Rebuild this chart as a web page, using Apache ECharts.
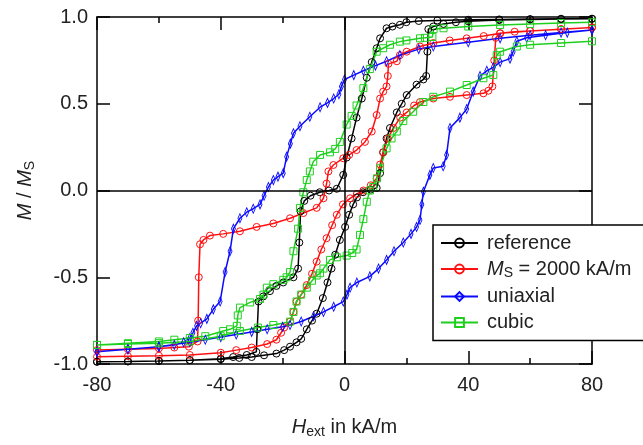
<!DOCTYPE html>
<html>
<head>
<meta charset="utf-8">
<script src="https://cdn.jsdelivr.net/npm/echarts@6/dist/echarts.min.js"></script>
<style>
  html, body { margin: 0; padding: 0; background: #fff; }
  #chart-container { width: 643px; height: 445px; }
</style>
</head>
<body>
<div id="chart-container"></div>
<script>
// H in kA/m, M / Ms ; each loop = descending branch + ascending branch
var refDown = [[80, 0.99], [70, 0.99], [60, 0.988], [50, 0.986], [40, 0.984], [30, 0.98], [24, 0.977], [20, 0.97], [17.9, 0.955], [15.5, 0.945], [13.6, 0.935], [11.5, 0.877], [10.4, 0.82], [8.8, 0.74], [7.2, 0.65], [5.6, 0.53], [3.9, 0.42], [2.3, 0.30], [0.7, 0.19], [-0.4, 0.09], [-2.5, 0.01], [-5, 0.0], [-8, -0.01], [-11, -0.03], [-13, -0.06], [-14.2, -0.12], [-14.6, -0.3], [-15, -0.45], [-16.5, -0.5], [-19.8, -0.53], [-22, -0.55], [-24.1, -0.58], [-26.2, -0.61], [-27.8, -0.64], [-28.2, -0.8], [-28.5, -0.93], [-31.6, -0.948], [-36, -0.96], [-40, -0.97], [-50, -0.978], [-60, -0.982], [-70, -0.985], [-80, -0.987]];
var refUp = [[-80, -0.987], [-70, -0.985], [-60, -0.982], [-50, -0.978], [-40, -0.972], [-34, -0.965], [-30, -0.96], [-26, -0.95], [-22, -0.94], [-19.5, -0.92], [-17.6, -0.9], [-15.5, -0.875], [-14, -0.855], [-12.2, -0.8], [-10.5, -0.75], [-9, -0.71], [-7, -0.62], [-5.5, -0.53], [-4.2, -0.45], [-3, -0.37], [-1.5, -0.285], [0.2, -0.21], [1.5, -0.14], [2.8, -0.08], [4, -0.04], [6, -0.01], [8.5, 0.005], [10.4, 0.015], [11.5, 0.1], [12.5, 0.22], [13.6, 0.3], [14.7, 0.36], [16.9, 0.45], [18.5, 0.5], [20.1, 0.55], [23.3, 0.61], [25.5, 0.64], [26.4, 0.66], [26.8, 0.8], [27.1, 0.93], [28.7, 0.945], [32, 0.96], [36, 0.97], [40, 0.975], [50, 0.982], [60, 0.986], [70, 0.988], [80, 0.99]];

var msDown = [[80, 0.94], [70, 0.93], [60, 0.92], [50.3, 0.906], [45, 0.89], [39.5, 0.877], [34, 0.865], [28.7, 0.85], [24.4, 0.83], [20.1, 0.80], [17.9, 0.78], [16.9, 0.745], [14.2, 0.73], [14, 0.66], [13.6, 0.6], [12.5, 0.57], [11.5, 0.53], [10.4, 0.435], [8.8, 0.34], [6.6, 0.28], [3.9, 0.233], [1.5, 0.205], [-0.4, 0.186], [-3.6, 0.147], [-5.2, 0.11], [-5.8, 0.04], [-6.8, -0.045], [-9, -0.10], [-13.3, -0.13], [-17.6, -0.16], [-23, -0.19], [-28.4, -0.21], [-33.8, -0.235], [-39.2, -0.25], [-43.5, -0.26], [-45.6, -0.285], [-46.7, -0.31], [-47.1, -0.5], [-47.3, -0.75], [-47.5, -0.87], [-50.3, -0.9], [-55, -0.905], [-60, -0.91], [-70, -0.915], [-80, -0.92]];
var msUp = [[-80, -0.958], [-70, -0.955], [-60, -0.952], [-50, -0.948], [-40, -0.935], [-35, -0.92], [-30, -0.905], [-25, -0.885], [-22, -0.86], [-20.5, -0.82], [-19.5, -0.79], [-17.6, -0.756], [-16.5, -0.7], [-15.5, -0.64], [-14, -0.6], [-12.2, -0.545], [-10.5, -0.48], [-9, -0.41], [-7.5, -0.34], [-5.8, -0.275], [-4, -0.2], [-2.5, -0.14], [-0.5, -0.08], [1.8, -0.045], [4, -0.02], [6.1, 0.0], [8.5, 0.03], [10.4, 0.07], [11.5, 0.15], [12.5, 0.22], [14, 0.3], [15.8, 0.36], [18, 0.42], [20.1, 0.45], [22.5, 0.49], [24.4, 0.51], [28.7, 0.53], [34.1, 0.54], [39.5, 0.55], [44.9, 0.56], [46.5, 0.575], [47.8, 0.6], [48.4, 0.75], [48.9, 0.88], [50.3, 0.906], [55, 0.915], [60, 0.92], [70, 0.93], [80, 0.94]];

var uniDown = [[80, 0.925], [70, 0.91], [60, 0.895], [50.3, 0.877], [40, 0.855], [28.7, 0.83], [24, 0.815], [17.9, 0.78], [13.6, 0.745], [10, 0.72], [6.1, 0.69], [3, 0.665], [0, 0.64], [-1, 0.6], [-1.8, 0.555], [-3.5, 0.53], [-5.5, 0.505], [-7.9, 0.48], [-11.2, 0.425], [-14.4, 0.37], [-16.5, 0.33], [-17.5, 0.27], [-18.7, 0.195], [-19.8, 0.10], [-21.5, 0.08], [-23, 0.06], [-24.6, 0.02], [-26, -0.03], [-27.3, -0.08], [-29.5, -0.105], [-31.6, -0.125], [-33.8, -0.16], [-35.9, -0.22], [-37, -0.35], [-38.6, -0.47], [-40.2, -0.64], [-42.4, -0.685], [-44.5, -0.74], [-46.5, -0.765], [-47.8, -0.78], [-49, -0.82], [-50, -0.85], [-52, -0.875], [-55, -0.89], [-60, -0.9], [-70, -0.915], [-80, -0.93]];
var uniUp = [[-80, -0.93], [-70, -0.915], [-60, -0.9], [-50, -0.875], [-45, -0.86], [-40, -0.845], [-35, -0.83], [-30, -0.815], [-25, -0.8], [-20, -0.785], [-17.6, -0.775], [-14, -0.755], [-10, -0.725], [-6.8, -0.70], [-3.5, -0.67], [-0.4, -0.64], [0.8, -0.6], [1.8, -0.56], [4, -0.53], [8.2, -0.495], [11, -0.45], [13.6, -0.40], [16, -0.35], [19, -0.30], [21.5, -0.25], [23.3, -0.21], [24.4, -0.17], [25, -0.08], [25.5, -0.007], [27.6, 0.09], [28.7, 0.13], [31.9, 0.14], [33, 0.205], [34.1, 0.36], [37.3, 0.42], [39.5, 0.47], [41.6, 0.57], [43.8, 0.66], [46, 0.69], [48.1, 0.71], [50.3, 0.74], [53.5, 0.76], [54.5, 0.80], [55.7, 0.86], [58.9, 0.88], [65, 0.895], [72, 0.91], [80, 0.925]];

var cubDown = [[80, 0.97], [70, 0.965], [60, 0.96], [50.3, 0.954], [40, 0.945], [32, 0.935], [28.8, 0.93], [28.4, 0.885], [26, 0.88], [24.4, 0.877], [20, 0.865], [17.9, 0.858], [14.7, 0.84], [12.5, 0.82], [10.4, 0.80], [8.2, 0.70], [6.1, 0.59], [3.9, 0.49], [2.3, 0.43], [0.7, 0.38], [-1.5, 0.28], [-3, 0.24], [-4.7, 0.22], [-7.9, 0.205], [-10.1, 0.166], [-11.2, 0.11], [-12.2, 0.06], [-13.3, -0.01], [-14.4, -0.1], [-15, -0.22], [-16.5, -0.35], [-17.6, -0.47], [-18.7, -0.50], [-19.8, -0.515], [-23, -0.54], [-25.1, -0.56], [-26.2, -0.6], [-27.3, -0.625], [-30.5, -0.645], [-33.8, -0.675], [-34.5, -0.72], [-34.8, -0.78], [-37, -0.8], [-39.2, -0.81], [-45, -0.84], [-50, -0.85], [-55, -0.86], [-60, -0.87], [-70, -0.88], [-80, -0.89]];
var cubUp = [[-80, -0.89], [-70, -0.885], [-60, -0.88], [-50, -0.87], [-40, -0.84], [-33.8, -0.81], [-28, -0.79], [-23, -0.775], [-17.6, -0.756], [-16.5, -0.7], [-15.5, -0.64], [-14, -0.6], [-12.2, -0.56], [-10.5, -0.52], [-9, -0.49], [-7.9, -0.477], [-6.8, -0.45], [-4.7, -0.40], [-2.5, -0.385], [0.7, -0.375], [2.5, -0.36], [3.9, -0.34], [5, -0.256], [6.1, -0.165], [7.2, -0.065], [8.2, 0.0], [9.3, 0.02], [10.5, 0.07], [11.5, 0.128], [13.6, 0.243], [15.2, 0.3], [16.9, 0.34], [19, 0.40], [22.2, 0.454], [25.5, 0.51], [28.7, 0.54], [34.1, 0.57], [39.5, 0.608], [44.9, 0.647], [48.1, 0.666], [49.2, 0.78], [50.3, 0.80], [55.7, 0.83], [60, 0.84], [70, 0.85], [80, 0.86]];

var seriesNames = ['reference', 'ms', 'uniaxial', 'cubic'];
var seriesColors = ['#000000', '#ff1010', '#0a0aff', '#1ed01e'];
var seriesSymbols = ['circle', 'circle', 'diamond', 'rect'];
var symbolSizes = [7, 7, [4, 9], 7];
var loops = [refDown.concat(refUp), msDown.concat(msUp), uniDown.concat(uniUp), cubDown.concat(cubUp)];

var FONT = '"Liberation Sans", Arial, sans-serif';

var dom = document.getElementById('chart-container');
var myChart = echarts.init(dom, null, { renderer: 'canvas' });

var series = [{
  type: 'line',
  name: 'zero',
  data: [[0, 0]],
  symbol: 'none',
  lineStyle: { width: 0 },
  silent: true,
  markLine: {
    silent: true,
    symbol: 'none',
    label: { show: false },
    lineStyle: { color: '#000', width: 1.5, type: 'solid' },
    data: [{ xAxis: 0 }, { yAxis: 0 }]
  }
}];

loops.forEach(function (d, i) {
  series.push({
    type: 'line',
    name: seriesNames[i],
    data: d,
    color: seriesColors[i],
    symbol: seriesSymbols[i],
    symbolSize: symbolSizes[i],
    showAllSymbol: true,
    itemStyle: { color: 'transparent', borderColor: seriesColors[i], borderWidth: 1 },
    lineStyle: { color: seriesColors[i], width: 1.5 },
    animation: false
  });
});

var rich = {
  i: { fontFamily: FONT, fontSize: 20, fontStyle: 'italic', color: '#222' },
  t: { fontFamily: FONT, fontSize: 20, color: '#222' },
  s: { fontFamily: FONT, fontSize: 14, color: '#222', padding: [9, 0, 0, 0] }
};

var axisCommon = {
  type: 'value',
  axisLine: { show: true, onZero: false, lineStyle: { color: '#000', width: 1.5 } },
  axisTick: { show: true, inside: true, length: 13, lineStyle: { color: '#000', width: 1.5 } },
  splitLine: { show: false }
};

var option = {
  animation: false,
  backgroundColor: '#fff',
  grid: { left: 97, right: 51, top: 17, bottom: 81 },
  legend: {
    data: seriesNames,
    orient: 'vertical',
    left: 433,
    top: 225,
    padding: [8, 14, 8, 7],
    itemGap: 6,
    itemWidth: 37,
    itemHeight: 11,
    backgroundColor: '#fff',
    borderColor: '#000',
    borderWidth: 1.5,
    borderRadius: 0,
    formatter: function (name) {
      if (name === 'ms') return '{i|M}{s|S}{t| = 2000 kA/m}';
      return '{t|' + name + '}';
    },
    textStyle: { fontFamily: FONT, fontSize: 20, color: '#222', padding: [0, 0, 0, 4], rich: rich }
  },
  xAxis: [
    Object.assign({}, axisCommon, {
      position: 'bottom',
      min: -80, max: 80, interval: 40,
      minorTick: { show: true, splitNumber: 2, length: 6, lineStyle: { color: '#000', width: 1.5 } },
      axisLabel: { fontFamily: FONT, fontSize: 20, color: '#222', margin: 11 },
      name: '{i|H}{s|ext}{t| in kA/m}',
      nameLocation: 'middle',
      nameGap: 52,
      nameTextStyle: { rich: rich }
    }),
    Object.assign({}, axisCommon, {
      position: 'top',
      min: -80, max: 80, interval: 40,
      minorTick: { show: true, splitNumber: 2, length: 6, lineStyle: { color: '#000', width: 1.5 } },
      axisLabel: { show: false }
    })
  ],
  yAxis: [
    Object.assign({}, axisCommon, {
      position: 'left',
      min: -1, max: 1, interval: 0.5,
      axisLabel: {
        fontFamily: FONT, fontSize: 20, color: '#222', margin: 9,
        formatter: function (v) { return v.toFixed(1); }
      },
      name: '{i|M}{t| / }{i|M}{s|S}',
      nameLocation: 'middle',
      nameGap: 60,
      nameTextStyle: { rich: rich }
    }),
    Object.assign({}, axisCommon, {
      position: 'right',
      min: -1, max: 1, interval: 0.5,
      axisLabel: { show: false }
    })
  ],
  series: series
};

myChart.setOption(option);
window.addEventListener('resize', myChart.resize);
</script>
</body>
</html>
